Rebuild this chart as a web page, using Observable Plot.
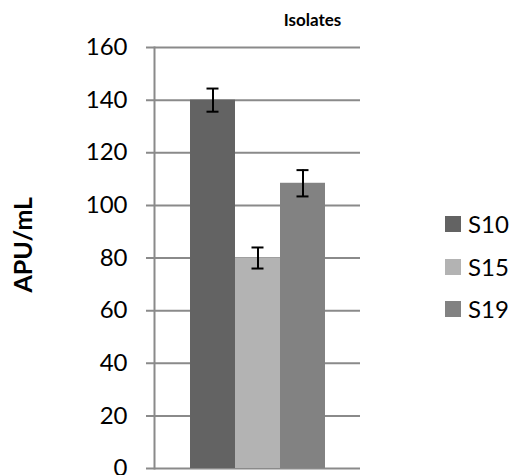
<!DOCTYPE html>
<html><head><meta charset="utf-8">
<script src="https://cdn.jsdelivr.net/npm/d3@7"></script>
<script src="https://cdn.jsdelivr.net/npm/@observablehq/plot@0.6"></script>
<style>
body{margin:0;background:#fff;}
#chart{position:relative;width:514px;height:475px;overflow:hidden;font-family:Lato,sans-serif;}
#chart svg{position:absolute;left:0;top:0;}
#legend{position:absolute;left:445px;top:203px;}
.item{display:flex;align-items:center;height:42.5px;font-size:24px;color:#000;line-height:1;}
.sw{width:16px;height:16px;margin-right:7px;}
</style></head><body><div id="chart"></div>
<script>
const series = ["S10", "S15", "S19"];
const values = [140, 80, 108.4];
const errors = [4.4, 4, 5];
const colors = ["#636363", "#b3b3b3", "#828282"];
const yTicks = [0, 20, 40, 60, 80, 100, 120, 140, 160];
const title = "Isolates";
const yLabel = "APU/mL";

const data = series.map((s, i) => ({series: s, value: values[i], err: errors[i]}));
const plot = Plot.plot({
  width: 514, height: 475, marginLeft: 154, marginRight: 154, marginTop: 47, marginBottom: 7,
  style: {fontFamily: "Lato, sans-serif", fontSize: "24px", background: "#fff", overflow: "visible"},
  x: {domain: series, paddingInner: 0, paddingOuter: 0.74, axis: null},
  y: {domain: [0, 160], axis: null},
  color: {domain: series, range: colors},
  marks: [
    Plot.ruleY(yTicks, {stroke: "#8a8a8a", strokeWidth: 2, insetLeft: -8}),
    Plot.barY(data, {x: "series", y: "value", fill: "series"}),
    Plot.ruleX(data, {x: "series", y1: d => d.value - d.err, y2: d => d.value + d.err, stroke: "#000", strokeWidth: 2}),
    Plot.tickY(data, {x: "series", y: d => d.value + d.err, stroke: "#000", strokeWidth: 2, inset: 16.5}),
    Plot.tickY(data, {x: "series", y: d => d.value - d.err, stroke: "#000", strokeWidth: 2, inset: 16.5}),
    Plot.frame({anchor: "left", stroke: "#8a8a8a", strokeWidth: 2}),
    Plot.axisY({ticks: yTicks, tickSize: 0, tickPadding: 27, fontSize: 24, label: null, fill: "#000"}),
    Plot.text([title], {text: d => d, frameAnchor: "top", dx: 55, dy: -21.5, lineAnchor: "bottom", fontWeight: "bold", fontSize: 17, fill: "#000"}),
    Plot.text([yLabel], {text: d => d, frameAnchor: "left", dx: -131, dy: 34.5, rotate: -90, fontWeight: "bold", fontSize: 25, fill: "#000"})
  ]
});
const chart = document.getElementById("chart");
chart.appendChild(plot);

const legend = document.createElement("div");
legend.id = "legend";
const color = plot.scale("color");
series.forEach(s => {
  const item = document.createElement("div");
  item.className = "item";
  const sw = document.createElement("span");
  sw.className = "sw";
  sw.style.background = color.apply(s);
  const t = document.createElement("span");
  t.textContent = s;
  item.appendChild(sw);
  item.appendChild(t);
  legend.appendChild(item);
});
chart.appendChild(legend);
</script>
</body></html>
